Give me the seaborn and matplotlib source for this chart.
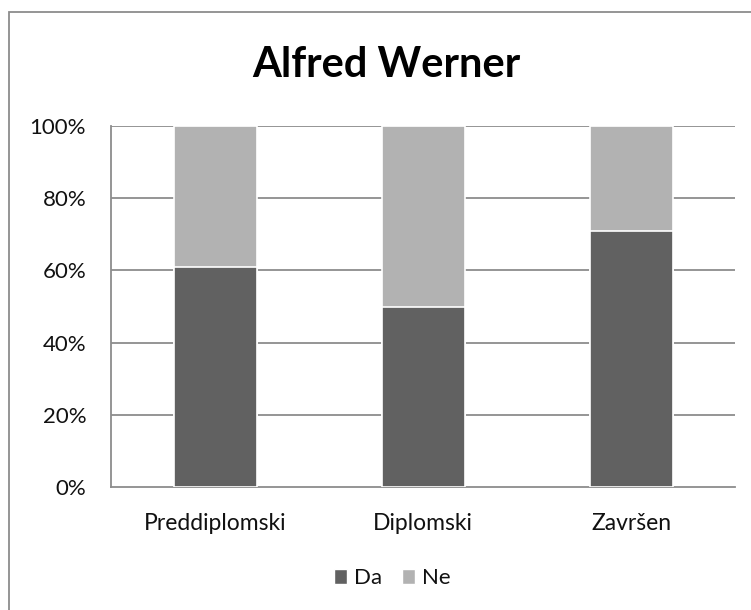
import matplotlib
matplotlib.use("Agg")
import matplotlib.pyplot as plt
import seaborn as sns
import pandas as pd
from matplotlib.patches import Patch, Rectangle

categories = ["Preddiplomski", "Diplomski", "Završen"]
da = [61, 50, 71]
ne = [39, 50, 29]
yticks = [0, 20, 40, 60, 80, 100]
ytick_labels = ["0%", "20%", "40%", "60%", "80%", "100%"]

sns.set_style("white")
plt.rcParams["font.family"] = ["Lato", "DejaVu Sans"]

df = pd.DataFrame({"cat": categories, "da": da, "total": [a + b for a, b in zip(da, ne)]})

fig = plt.figure(figsize=(7.51, 6.10), dpi=100)
ax = fig.add_axes([0.148, 0.2016, 0.831, 0.5918])

for y in yticks[1:]:
    ax.axhline(y, color="#8c8c8c", lw=1.3, zorder=0)

sns.barplot(data=df, x="cat", y="total", color="#b2b2b2", width=0.4,
            edgecolor="white", linewidth=1.2, saturation=1, ax=ax, zorder=2)
sns.barplot(data=df, x="cat", y="da", color="#616161", width=0.4,
            edgecolor="white", linewidth=1.2, saturation=1, ax=ax, zorder=3)

ax.set_ylim(0, 100)
ax.set_xlim(-0.5, 2.5)
ax.set_yticks(yticks)
ax.set_yticklabels(ytick_labels, fontsize=16)
ax.tick_params(axis="x", labelsize=16.5, length=0, pad=19, labelcolor="#111111")
ax.tick_params(axis="y", length=0, pad=18, labelcolor="#111111")
ax.set_xlabel("")
ax.set_ylabel("")
for s in ["top", "right"]:
    ax.spines[s].set_visible(False)
for s in ["left", "bottom"]:
    ax.spines[s].set_color("#8c8c8c")
    ax.spines[s].set_linewidth(1.3)

fig.text(0.515, 0.893, "Alfred Werner", fontsize=30, fontweight="bold",
         ha="center", va="center", color="black")

handles = [Patch(facecolor="#616161", label="Da"), Patch(facecolor="#b2b2b2", label="Ne")]
fig.legend(handles=handles, loc="center", bbox_to_anchor=(0.522, 0.052), ncol=2,
           frameon=False, fontsize=16, handlelength=0.6, handleheight=0.6,
           handletextpad=0.3, columnspacing=0.9, labelcolor="#111111")

fig.patches.append(Rectangle((0.012, -0.01), 1.0, 0.99, transform=fig.transFigure,
                             fill=False, edgecolor="#8c8c8c", lw=1.3))

fig.savefig("out.png", dpi=100)
